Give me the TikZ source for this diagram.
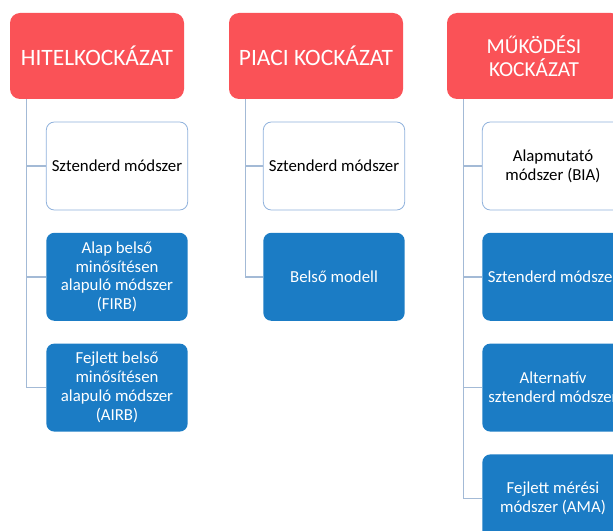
\documentclass[tikz,border=0pt]{standalone}
\usepackage{fontspec}
\setmainfont{Carlito}
\usetikzlibrary{calc}
\usetikzlibrary{positioning}

\definecolor{riskred}{HTML}{FA5257}
\definecolor{modelblue}{HTML}{1B7CC5}
\definecolor{framebl}{HTML}{8FB1DC}
\definecolor{spinebl}{HTML}{A3BAD6}

\tikzset{
  risk/.style={rectangle, rounded corners=7.5pt, fill=riskred, text=white,
    minimum width=130.5pt, minimum height=64.5pt, align=center,
    font=\fontsize{17.6}{20}\selectfont},
  method/.style={rectangle, rounded corners=6pt, draw=framebl, line width=0.6pt,
    fill=white, text=black, minimum width=106pt, minimum height=66pt,
    align=center, inner sep=2pt, font=\fontsize{12.6}{14.2}\selectfont},
  inhouse/.style={method, draw=none, fill=modelblue, text=white},
  branch/.style={draw=spinebl, line width=1.1pt}
}

\begin{document}
\begin{tikzpicture}[x=0.75pt, y=-0.75pt, node distance=16.5pt]
  \useasboundingbox (0,0) rectangle (613,531);
  \clip (0,0) rectangle (613,531);

  \node [risk] (h1) at (97, 56)  {HITELKOCKÁZAT};
  \node [risk] (h2) at (316, 56) {PIACI KOCKÁZAT};
  \node [risk, font=\fontsize{16}{17}\selectfont] (h3) at (534, 56) {MŰKÖDÉSI\\KOCKÁZAT};

  \node [method] (c1a) at (117, 166) {Sztenderd módszer};
  \node [inhouse, below=of c1a] (c1b) {Alap belső\\minősítésen\\alapuló módszer\\(FIRB)};
  \node [inhouse, below=of c1b] (c1c) {Fejlett belső\\minősítésen\\alapuló módszer\\(AIRB)};

  \node [method] (c2a) at (334, 166) {Sztenderd módszer};
  \node [inhouse, below=of c2a] (c2b) {Belső modell};

  \node [method] (c3a) at (553, 166) {Alapmutató\\módszer (BIA)};
  \node [inhouse, below=of c3a] (c3b) {Sztenderd módszer};
  \node [inhouse, below=of c3b] (c3c) {Alternatív\\sztenderd módszer};
  \node [inhouse, below=of c3c] (c3d) {Fejlett mérési\\módszer (AMA)};

  \coordinate (s1) at ($(h1.south west)+(17,0)$);
  \coordinate (s2) at ($(h2.south west)+(17,0)$);
  \coordinate (s3) at ($(h3.south west)+(17,0)$);

  \foreach \c in {c1a, c1b, c1c}
    \draw [branch] (s1) |- (\c.west);
  \foreach \c in {c2a, c2b}
    \draw [branch] (s2) |- (\c.west);
  \foreach \c in {c3a, c3b, c3c, c3d}
    \draw [branch] (s3) |- (\c.west);
\end{tikzpicture}
\end{document}
